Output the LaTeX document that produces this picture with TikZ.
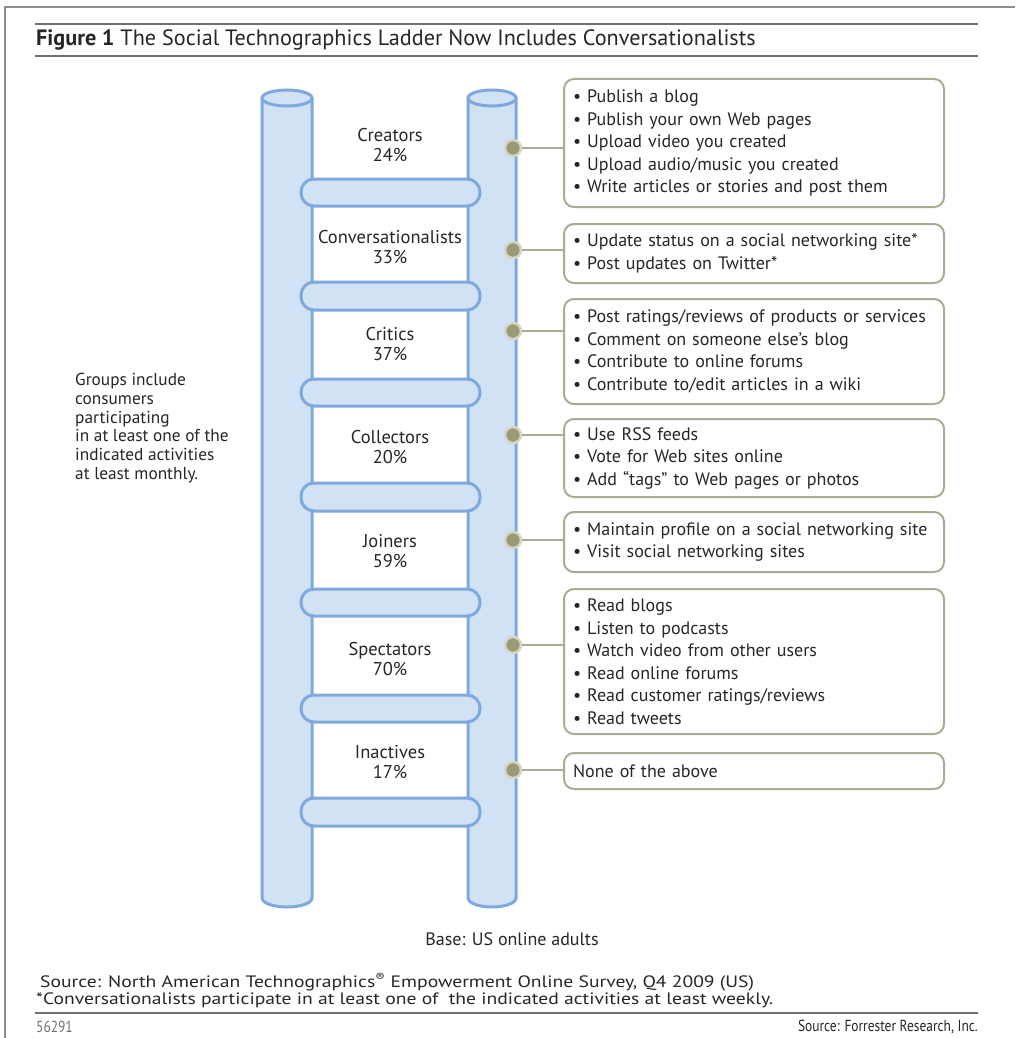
\documentclass[tikz,border=0pt]{standalone}
\usepackage{fontspec}
\setmainfont{PT Sans}
\newfontfamily\narrowsans[FakeStretch=0.84]{PT Sans}
\newfontfamily\widesans[FakeStretch=1.19]{PT Sans}
\usetikzlibrary{positioning, calc}
\definecolor{railFill}{HTML}{D2E2F5}
\definecolor{railLine}{HTML}{7FA8DE}
\definecolor{boxLine}{HTML}{ABAB94}
\definecolor{dotFill}{HTML}{9A9A78}
\definecolor{dotRing}{HTML}{D6D6C4}
\definecolor{inkGrey}{HTML}{262626}
\definecolor{ruleGrey}{HTML}{707070}
\tikzstyle{rail}=[fill=railFill, draw=railLine, line width=3pt]
\tikzstyle{rung}=[rail, rounded corners=13pt]
\tikzstyle{stepdot}=[circle, minimum size=16pt, inner sep=0pt, fill=dotFill, draw=dotRing, line width=2.5pt]
\tikzstyle{infobox}=[draw=boxLine, line width=2pt, rounded corners=10pt, anchor=north west, text width=362pt, inner xsep=9pt, inner ysep=0pt, align=left, text=inkGrey, font=\fontsize{18}{22.5}\selectfont]
\tikzstyle{link}=[draw=boxLine, line width=1.8pt]
\tikzstyle{rungtext}=[align=center, text=inkGrey, font=\fontsize{18.5}{20.5}\selectfont]

\begin{document}
\begin{tikzpicture}[x=1pt, y=-1pt]
\useasboundingbox (0,0) rectangle (1015,1038);

% frame and title
\draw[draw=ruleGrey!80, line width=1.5pt] (5,1038) -- (5,7) -- (1015,7);
\draw[draw=ruleGrey, line width=2.5pt] (35,24) -- (978,24);
\draw[draw=ruleGrey, line width=2.5pt] (35,56) -- (978,56);
\node (figTitle) [anchor=west, text=inkGrey, inner sep=0pt, font=\fontsize{22.2}{24}\selectfont] at (36,40) {\textbf{Figure 1} The Social Technographics Ladder Now Includes Conversationalists};

% ladder rails
\draw[rail] (262,98) -- (262,898) arc[start angle=180, end angle=0, x radius=25, y radius=9] -- (312,98);
\draw[rail] (287,98) ellipse[x radius=25, y radius=8];
\draw[rail] (468,98) -- (468,898) arc[start angle=180, end angle=0, x radius=24, y radius=9] -- (516,98);
\draw[rail] (492,98) ellipse[x radius=24, y radius=8];

% rungs
\draw[rung] (301,179) rectangle (480,206);
\draw[rung] (301,282) rectangle (480,310);
\draw[rung] (301,379) rectangle (480,406);
\draw[rung] (301,483) rectangle (480,511);
\draw[rung] (301,589) rectangle (480,616);
\draw[rung] (301,695) rectangle (480,722);
\draw[rung] (301,798) rectangle (480,826);

\node (creatorsText) [rungtext] at (390,145) {Creators\\24\%};
\node (conversText) [rungtext] at (390,247) {Conversationalists\\33\%};
\node (criticsText) [rungtext] at (390,344) {Critics\\37\%};
\node (collectText) [rungtext] at (390,447) {Collectors\\20\%};
\node (joinersText) [rungtext] at (390,551) {Joiners\\59\%};
\node (spectText) [rungtext] at (390,659) {Spectators\\70\%};
\node (inactText) [rungtext] at (390,762) {Inactives\\17\%};

% activity boxes
\node (creatorsBox) [infobox, minimum height=128pt] at (563,78) {\textbullet\ Publish a blog\\\textbullet\ Publish your own Web pages\\\textbullet\ Upload video you created\\\textbullet\ Upload audio/music you created\\\textbullet\ Write articles or stories and post them};
\node (conversBox) [infobox, minimum height=59pt] at (563,223) {\textbullet\ Update status on a social networking site*\\\textbullet\ Post updates on Twitter*};
\node (criticsBox) [infobox, minimum height=105pt] at (563,298) {\textbullet\ Post ratings/reviews of products or services\\\textbullet\ Comment on someone else’s blog\\\textbullet\ Contribute to online forums\\\textbullet\ Contribute to/edit articles in a wiki};
\node (collectBox) [infobox, minimum height=78pt] at (563,418) {\textbullet\ Use RSS feeds\\\textbullet\ Vote for Web sites online\\\textbullet\ Add “tags” to Web pages or photos};
\node (joinersBox) [infobox, minimum height=60pt] at (563,511) {\textbullet\ Maintain profile on a social networking site\\\textbullet\ Visit social networking sites};
\node (spectBox) [infobox, minimum height=145pt] at (563,588) {\textbullet\ Read blogs\\\textbullet\ Listen to podcasts\\\textbullet\ Watch video from other users\\\textbullet\ Read online forums\\\textbullet\ Read customer ratings/reviews\\\textbullet\ Read tweets};
\node (inactBox) [infobox, minimum height=36pt] at (563,752) {None of the above};

% dots and connectors
\node (creatorsDot) [stepdot] at (513,148) {};
\node (conversDot) [stepdot] at (513,250) {};
\node (criticsDot) [stepdot] at (513,331) {};
\node (collectDot) [stepdot] at (513,435) {};
\node (joinersDot) [stepdot] at (513,540) {};
\node (spectDot) [stepdot] at (513,645) {};
\node (inactDot) [stepdot] at (513,770) {};

\draw[link] (creatorsDot) -- (creatorsDot -| creatorsBox.west);
\draw[link] (conversDot) -- (conversDot -| conversBox.west);
\draw[link] (criticsDot) -- (criticsDot -| criticsBox.west);
\draw[link] (collectDot) -- (collectDot -| collectBox.west);
\draw[link] (joinersDot) -- (joinersDot -| joinersBox.west);
\draw[link] (spectDot) -- (spectDot -| spectBox.west);
\draw[link] (inactDot) -- (inactDot -| inactBox.west);

% notes
\node (groupNote) [anchor=north west, align=left, inner sep=0pt, text=inkGrey, font=\fontsize{17.3}{18.8}\selectfont] at (75,373) {Groups include\\consumers\\participating\\in at least one of the\\indicated activities\\at least monthly.};
\node (baseNote) [text=inkGrey, font=\fontsize{18}{20}\selectfont] at (512,939) {Base: US online adults};
\node (sourceNote) [anchor=west, inner sep=0pt, text=inkGrey, font=\widesans\fontsize{16.5}{18}\selectfont] at (40,982) {Source: North American Technographics\textsuperscript{®} Empowerment Online Survey, Q4 2009 (US)};
\node (starNote) [anchor=west, inner sep=0pt, text=inkGrey, font=\widesans\fontsize{16.5}{18}\selectfont] at (36,1000) {*Conversationalists participate in at least one of\ \ the indicated activities at least weekly.};
\draw[draw=ruleGrey, line width=2.5pt] (35,1013) -- (978,1013);
\node (figNumber) [anchor=west, inner sep=0pt, text=ruleGrey, font=\narrowsans\fontsize{16}{19}\selectfont] at (36,1027) {56291};
\node (forrester) [anchor=east, inner sep=0pt, text=inkGrey, font=\narrowsans\fontsize{16}{19}\selectfont] at (978,1027) {Source: Forrester Research, Inc.};
\end{tikzpicture}
\end{document}
